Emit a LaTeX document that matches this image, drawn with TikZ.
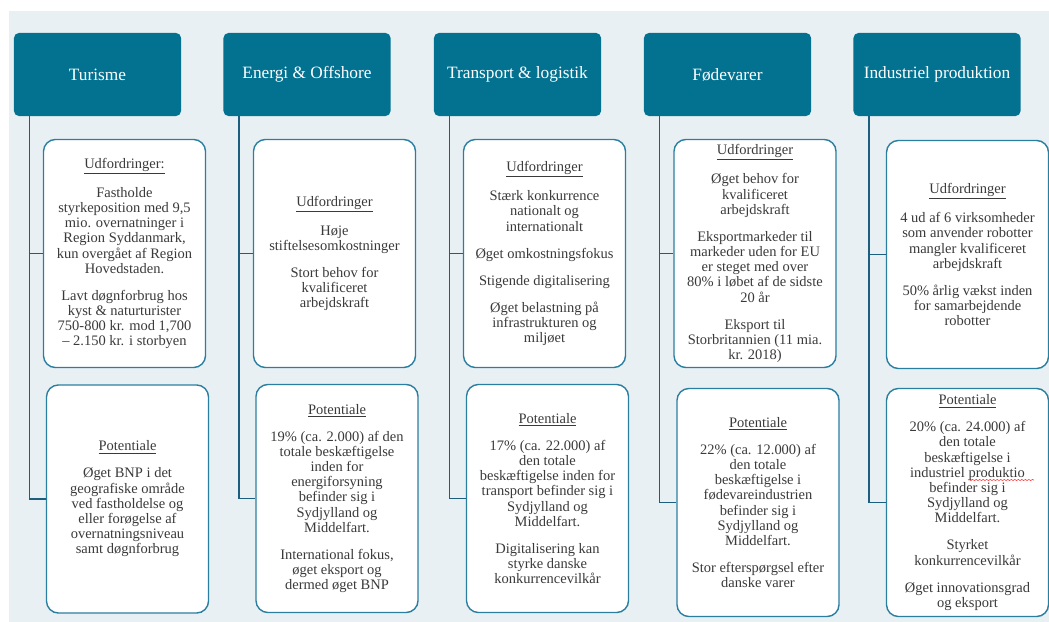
\documentclass[tikz,border=0pt]{standalone}
\usepackage{fontspec}
\setmainfont{Liberation Serif}
\usetikzlibrary{decorations.pathmorphing}

\definecolor{bgpanel}{HTML}{E8F0F4}
\definecolor{hdrblue}{HTML}{037291}
\definecolor{boxline}{HTML}{2A7FA0}
\definecolor{linkblue}{HTML}{1B5E7E}
\definecolor{bodytext}{HTML}{3A3A3A}

\tikzset{
  header/.style={rectangle, rounded corners=3.5pt, fill=hdrblue, text=white,
    minimum width=4.175cm, minimum height=2.075cm, align=center,
    font=\fontsize{12.3}{13}\selectfont},
  infobox/.style={rectangle, rounded corners=8.5pt, draw=boxline, line width=1pt,
    fill=white, text=bodytext, minimum width=4.05cm, minimum height=5.7cm,
    align=center, inner sep=2pt, font=\fontsize{10.3}{10.8}\selectfont},
  link/.style={draw=linkblue, line width=1.1pt}
}
\newcommand{\pgap}{\\[8.4pt]}

\begin{document}
\begin{tikzpicture}[x=0.025cm, y=-0.025cm]
  \useasboundingbox (0,0) rectangle (1049,622);
  \fill[bgpanel] (9,11) rectangle (1049,622);

  % Define headers
  \node[header] (tur) at (97.5,74.5) {Turisme};
  \node[header] (ene) at (307,74.5) {Energi \& Offshore};
  \node[header] (tra) at (517.5,74.5) {Transport \& logistik};
  \node[header] (fod) at (727.5,74.5) {Fødevarer};
  \node[header] (ind) at (937,74.5) {Industriel produktion};

  % Udfordringer boxes
  \node[infobox] (turudf) at (124.5,253.5) {\underline{Udfordringer:}\pgap
    Fastholde\\styrkeposition med 9,5\\mio. overnatninger i\\Region Syddanmark,\\kun overgået af Region\\Hovedstaden.\pgap
    Lavt døgnforbrug hos\\kyst \& naturturister\\750-800 kr. mod 1,700\\– 2.150 kr. i storbyen};
  \node[infobox] (eneudf) at (334.5,253.5) {\underline{Udfordringer}\pgap
    Høje\\stiftelsesomkostninger\pgap
    Stort behov for\\kvalificeret\\arbejdskraft};
  \node[infobox] (traudf) at (544.5,253.5) {\underline{Udfordringer}\pgap
    Stærk konkurrence\\nationalt og\\internationalt\pgap
    Øget omkostningsfokus\pgap
    Stigende digitalisering\pgap
    Øget belastning på\\infrastrukturen og\\miljøet};
  \node[infobox] (fodudf) at (755,253.5) {\underline{Udfordringer}\pgap
    Øget behov for\\kvalificeret\\arbejdskraft\pgap
    Eksportmarkeder til\\markeder uden for EU\\er steget med over\\80\% i løbet af de sidste\\20 år\pgap
    Eksport til\\Storbritannien (11 mia.\\kr. 2018)};
  \node[infobox] (indudf) at (967.5,254.5) {\underline{Udfordringer}\pgap
    4 ud af 6 virksomheder\\som anvender robotter\\mangler kvalificeret\\arbejdskraft\pgap
    50\% årlig vækst inden\\for samarbejdende\\robotter};

  % Potentiale boxes
  \node[infobox] (turpot) at (127.5,499) {\underline{Potentiale}\pgap
    Øget BNP i det\\geografiske område\\ved fastholdelse og\\eller forøgelse af\\overnatningsniveau\\samt døgnforbrug};
  \node[infobox] (enepot) at (337,498.5) {\underline{Potentiale}\pgap
    19\% (ca. 2.000) af den\\totale beskæftigelse\\inden for\\energiforsyning\\befinder sig i\\Sydjylland og\\Middelfart.\pgap
    International fokus,\\øget eksport og\\dermed øget BNP};
  \node[infobox] (trapot) at (547.5,498.5) {\underline{Potentiale}\pgap
    17\% (ca. 22.000) af\\den totale\\beskæftigelse inden for\\transport befinder sig i\\Sydjylland og\\Middelfart.\pgap
    Digitalisering kan\\styrke danske\\konkurrencevilkår};
  \node[infobox] (fodpot) at (758,502.5) {\underline{Potentiale}\pgap
    22\% (ca. 12.000) af\\den totale\\beskæftigelse i\\fødevareindustrien\\befinder sig i\\Sydjylland og\\Middelfart.\pgap
    Stor efterspørgsel efter\\danske varer};
  \node[infobox] (indpot) at (967.5,502.5) {\underline{Potentiale}\pgap
    20\% (ca. 24.000) af\\den totale\\beskæftigelse i\\industriel produktio\\befinder sig i\\Sydjylland og\\Middelfart.\pgap
    Styrket\\konkurrencevilkår\pgap
    Øget innovationsgrad\\og eksport};

  % Draw links
  \draw[link] ([xshift=0.4cm]tur.south west) |- (turudf.west);
  \draw[link] ([xshift=0.4cm]tur.south west) |- (turpot.west);
  \draw[link] ([xshift=0.4cm]ene.south west) |- (eneudf.west);
  \draw[link] ([xshift=0.4cm]ene.south west) |- (enepot.west);
  \draw[link] ([xshift=0.4cm]tra.south west) |- (traudf.west);
  \draw[link] ([xshift=0.4cm]tra.south west) |- (trapot.west);
  \draw[link] ([xshift=0.4cm]fod.south west) |- (fodudf.west);
  \draw[link] ([xshift=0.4cm]fod.south west) |- (fodpot.west);
  \draw[link] ([xshift=0.4cm]ind.south west) |- (indudf.west);
  \draw[link] ([xshift=0.4cm]ind.south west) |- (indpot.west);

  % Spelling mark
  \coordinate (sq1) at (968,480);
  \coordinate (sq2) at (1034,480);
  \draw[red!80, line width=0.4pt, decorate,
    decoration={snake, amplitude=0.4pt, segment length=2.5pt}] (sq1) -- (sq2);
\end{tikzpicture}
\end{document}
